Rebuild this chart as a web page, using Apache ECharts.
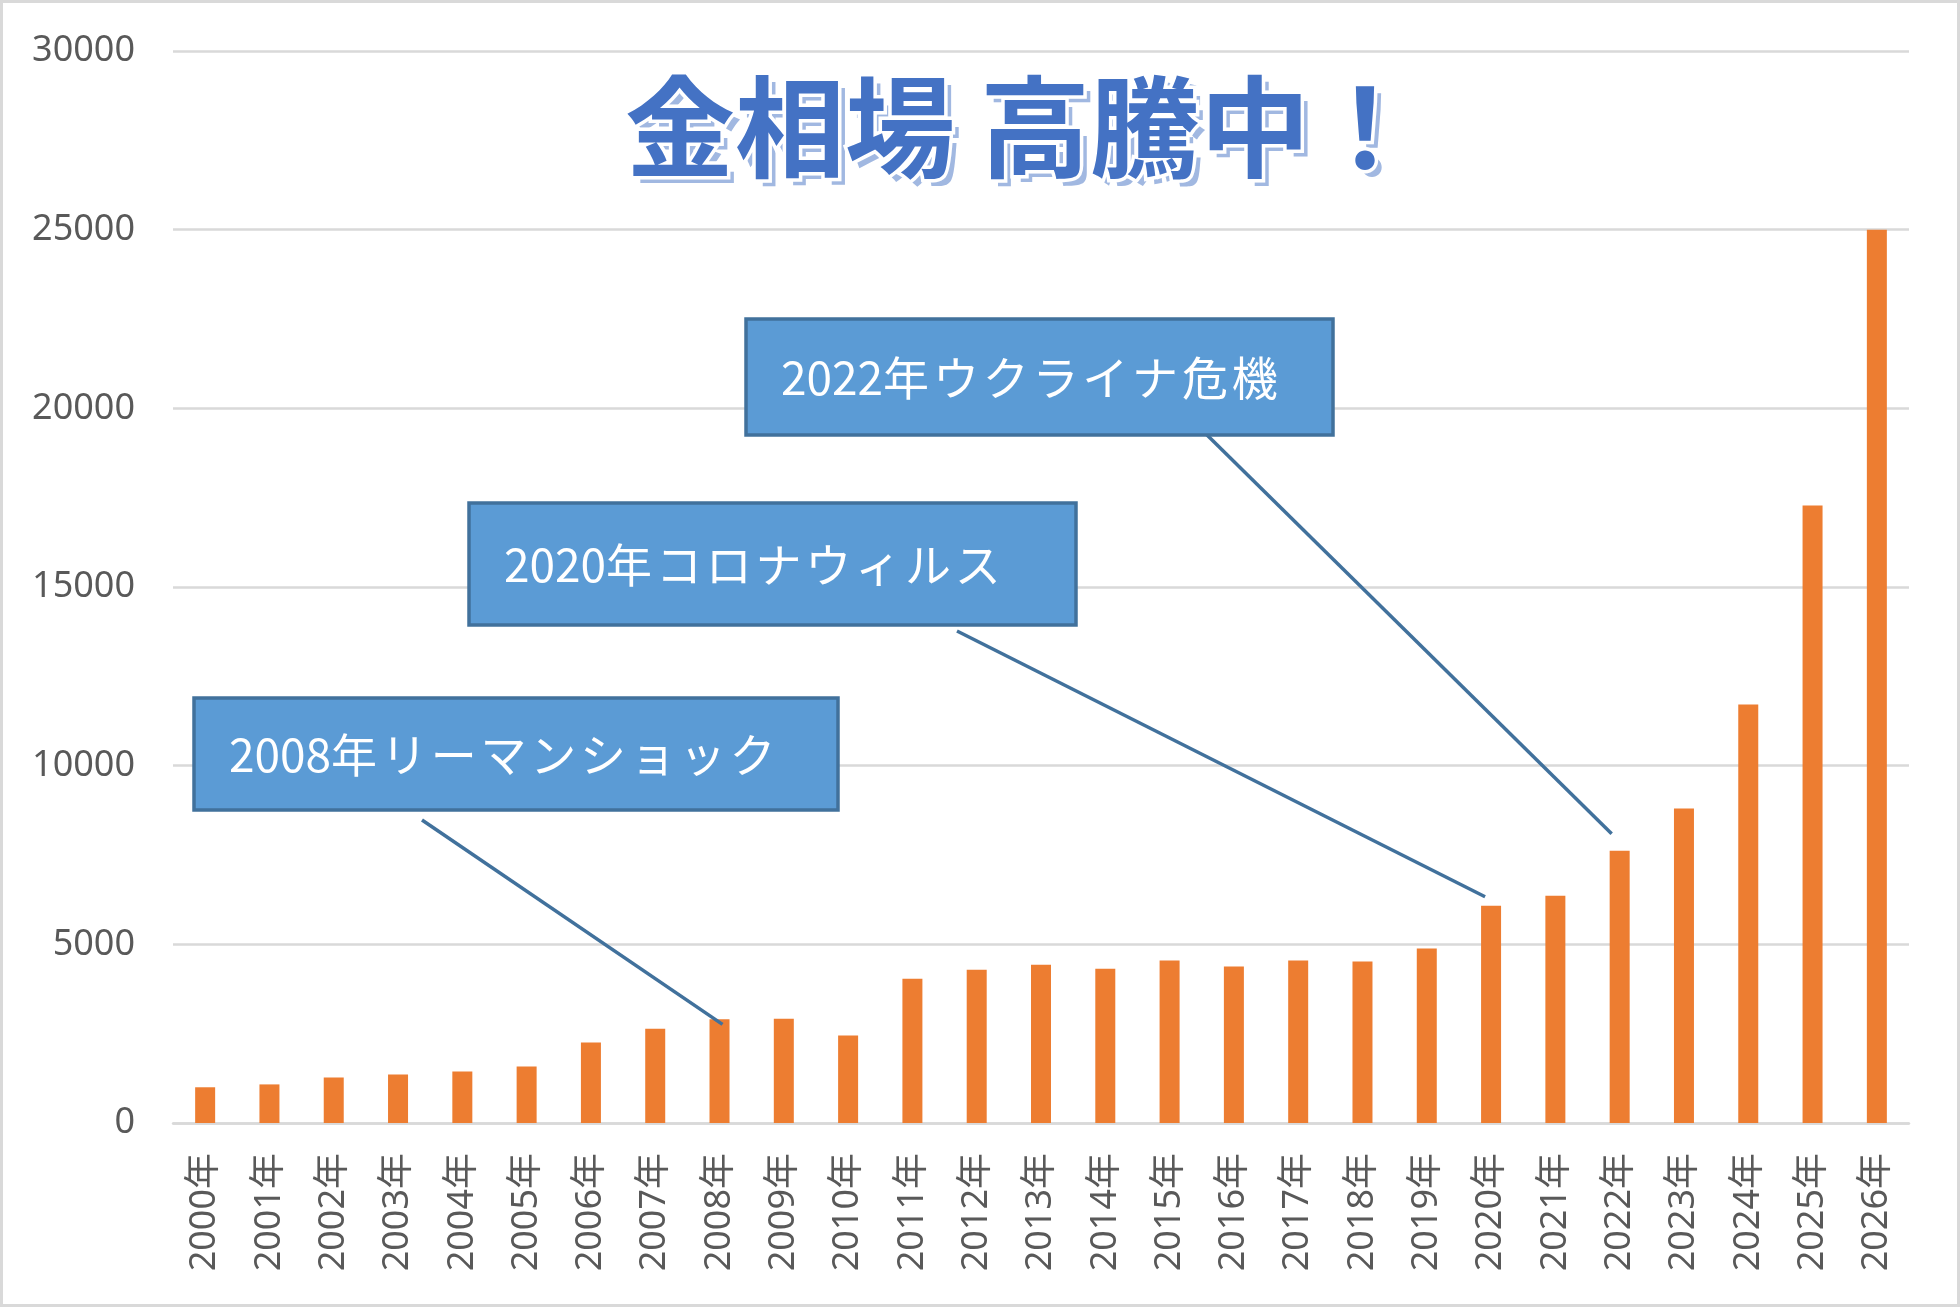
<!DOCTYPE html>
<html>
<head>
<meta charset="utf-8">
<script src="https://cdn.jsdelivr.net/npm/echarts@6/dist/echarts.min.js"></script>
<style>
  html, body { margin: 0; padding: 0; background: #fff; }
  #chart { width: 1960px; height: 1307px; }
</style>
</head>
<body>
<div id="chart"></div>
<script>
// 年ごとの金価格
const years = ['2000年', '2001年', '2002年', '2003年', '2004年', '2005年', '2006年', '2007年', '2008年',
  '2009年', '2010年', '2011年', '2012年', '2013年', '2014年', '2015年', '2016年', '2017年', '2018年',
  '2019年', '2020年', '2021年', '2022年', '2023年', '2024年', '2025年', '2026年']
const prices = [1000, 1080, 1270, 1360, 1440, 1580, 2250, 2640, 2900,
  2920, 2450, 4040, 4290, 4430, 4320, 4550, 4380, 4550, 4520,
  4880, 6080, 6360, 7620, 8800, 11710, 17280, 25000]
const yTicks = [0, 5000, 10000, 15000, 20000, 25000, 30000]

// 吹き出し
const noteYears = ['2008年', '2020年', '2022年']
const noteTexts = ['2008年リーマンショック', '2020年コロナウィルス', '2022年ウクライナ危機']

const titleText = '金相場 高騰中！'

const font = "'Noto Sans', 'Noto Sans CJK JP', sans-serif"

var myChart = echarts.init(document.getElementById('chart'))
myChart.setOption({
  animation: false,
  backgroundColor: '#fff',
  grid: { left: 173, right: 51, top: 51, bottom: 184 },
  xAxis: {
    type: 'category',
    data: years,
    axisLine: { lineStyle: { color: '#D9D9D9', width: 2.5 } },
    axisTick: { show: false },
    axisLabel: { rotate: 90, margin: 30, fontSize: 36, color: '#595959', fontFamily: font }
  },
  yAxis: {
    type: 'value',
    min: yTicks[0],
    max: yTicks[yTicks.length - 1],
    interval: yTicks[1] - yTicks[0],
    axisLine: { show: false },
    axisTick: { show: false },
    axisLabel: {
      margin: 38, fontSize: 36, color: '#595959', fontFamily: font,
      formatter: function (v) { return String(v) }
    },
    splitLine: { lineStyle: { color: '#D9D9D9', width: 2.5 } }
  },
  series: [
    {
      type: 'bar',
      data: prices,
      barWidth: 20,
      itemStyle: { color: '#ED7D31' }
    }
  ]
})

// 吹き出しの箱（位置はピクセル）
const boxes = [
  { x: 194, y: 698, w: 644, h: 112, from: [422, 820], off: [3, 5] },
  { x: 469, y: 503, w: 607, h: 122, from: [957, 631], off: [-6, -9] },
  { x: 746, y: 319, w: 587, h: 116, from: [1205, 433], off: [-8, -17] }
]

const noteFont = "46px 'Noto Sans CJK JP', sans-serif"
const ctx = document.createElement('canvas').getContext('2d')
ctx.font = noteFont

const graphics = []
// 外枠
graphics.push({
  type: 'rect',
  shape: { x: 1.5, y: 1.5, width: 1957, height: 1304 },
  style: { fill: 'none', stroke: '#D9D9D9', lineWidth: 3 },
  z: 100
})

for (let i = 0; i < noteTexts.length; i++) {
  const b = boxes[i]
  const idx = years.indexOf(noteYears[i])
  const p = myChart.convertToPixel({ seriesIndex: 0 }, [idx, prices[idx]])
  graphics.push({
    type: 'line',
    shape: { x1: b.from[0], y1: b.from[1], x2: p[0] + b.off[0], y2: p[1] + b.off[1] },
    style: { stroke: '#41719C', lineWidth: 3.5 },
    z: 50
  })
  graphics.push({
    type: 'rect',
    shape: { x: b.x, y: b.y, width: b.w, height: b.h },
    style: { fill: '#5B9BD5', stroke: '#41719C', lineWidth: 3.5 },
    z: 60
  })
  // 一文字ずつ置いて字間を少し広げる
  let cx = b.x + 35
  const chars = Array.from(noteTexts[i])
  for (const ch of chars) {
    graphics.push({
      type: 'text',
      x: cx,
      y: b.y + b.h / 2 + 1,
      style: { text: ch, fill: '#fff', font: noteFont, verticalAlign: 'middle', align: 'left' },
      z: 61
    })
    cx += ctx.measureText(ch).width + (/[0-9]/.test(ch) ? 0 : 3.8)
  }
}

// タイトル（影 + 本体）
graphics.push({
  type: 'text',
  x: 625 + 7,
  y: 127 + 7,
  style: {
    text: titleText,
    fill: '#A1B8E1',
    font: "bold 110px 'Noto Sans CJK JP', sans-serif",
    verticalAlign: 'middle',
    align: 'left'
  },
  z: 70
})
graphics.push({
  type: 'text',
  x: 625,
  y: 127,
  style: {
    text: titleText,
    fill: '#4472C4',
    stroke: '#fff',
    lineWidth: 7,
    strokeFirst: true,
    font: "bold 110px 'Noto Sans CJK JP', sans-serif",
    verticalAlign: 'middle',
    align: 'left'
  },
  z: 71
})

myChart.setOption({ graphic: graphics })
</script>
</body>
</html>
